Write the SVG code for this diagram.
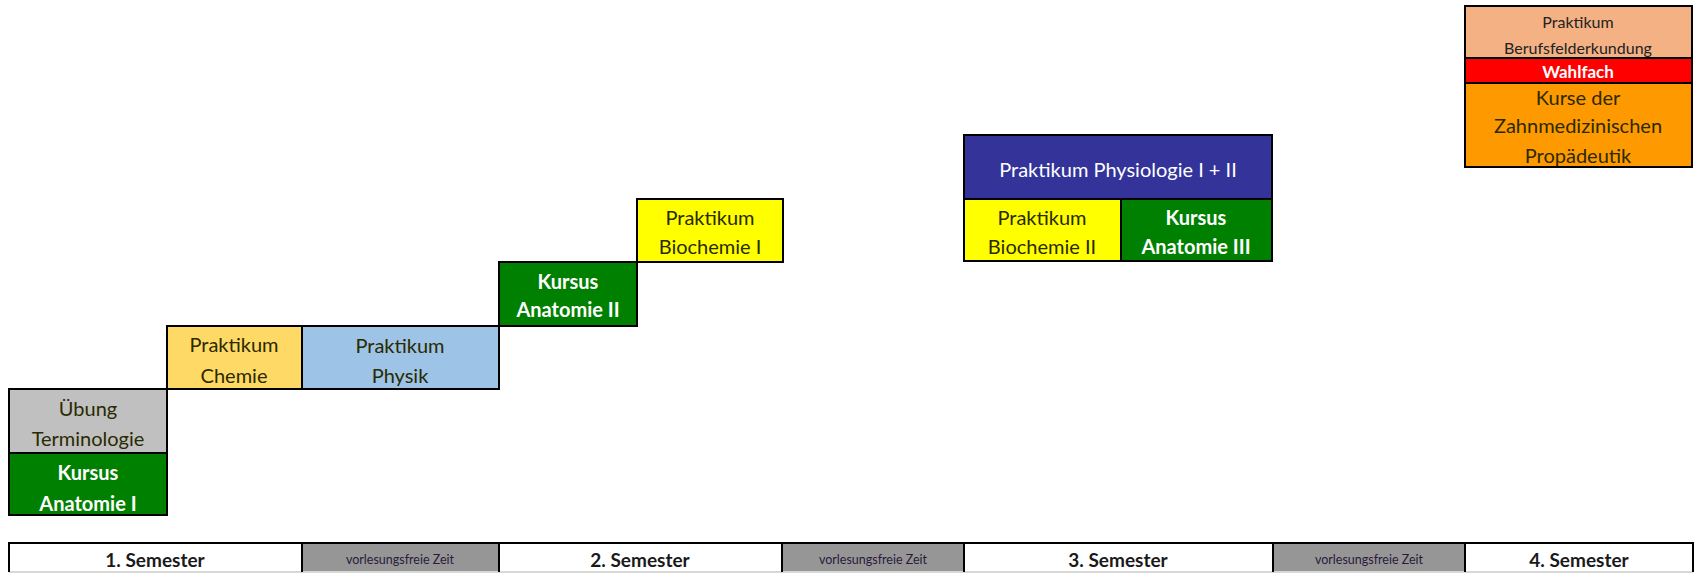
<svg xmlns="http://www.w3.org/2000/svg" width="1700" height="573" viewBox="0 0 1700 573">
<style>
.b{stroke:#000;stroke-width:2}
text{font-family:Lato,"Liberation Sans",sans-serif;text-anchor:middle;dominant-baseline:central}
.t{font-size:20px;fill:#2a2a00}
.w{font-size:20px;fill:#fff;font-weight:bold}
.s{font-size:16px;fill:#222}
.sem{font-size:19px;font-weight:bold;fill:#1a1a1a}
.vz{font-size:12.5px;fill:#2a1a3a}
</style>
<rect width="1700" height="573" fill="#fff"/>
<g id="uebung"><rect class="b" x="9" y="389" width="158" height="64" fill="#c0c0c0"/><text class="t" x="88" y="408">Übung</text><text class="t" x="88" y="438">Terminologie</text></g>
<g id="anatomie1"><rect class="b" x="9" y="453" width="158" height="62" fill="#008000"/><text class="w" x="88" y="472">Kursus</text><text class="w" x="88" y="503">Anatomie I</text></g>
<g id="chemie"><rect class="b" x="167" y="326" width="135" height="63" fill="#ffd966"/><text class="t" x="234" y="344">Praktikum</text><text class="t" x="234" y="375">Chemie</text></g>
<g id="physik"><rect class="b" x="302" y="326" width="197" height="63" fill="#9dc3e6"/><text class="t" x="400" y="345">Praktikum</text><text class="t" x="400" y="375">Physik</text></g>
<g id="anatomie2"><rect class="b" x="499" y="262" width="138" height="64" fill="#008000"/><text class="w" x="568" y="281">Kursus</text><text class="w" x="568" y="309">Anatomie II</text></g>
<g id="biochemie1"><rect class="b" x="637" y="199" width="146" height="63" fill="#ffff00"/><text class="t" x="710" y="217">Praktikum</text><text class="t" x="710" y="246">Biochemie I</text></g>
<g id="physiologie"><rect class="b" x="964" y="135" width="308" height="64" fill="#333399"/><text class="t" x="1118" y="169" style="fill:#fff">Praktikum Physiologie I + II</text></g>
<g id="biochemie2"><rect class="b" x="964" y="199" width="157" height="62" fill="#ffff00"/><text class="t" x="1042" y="217">Praktikum</text><text class="t" x="1042" y="246">Biochemie II</text></g>
<g id="anatomie3"><rect class="b" x="1121" y="199" width="151" height="62" fill="#008000"/><text class="w" x="1196" y="217">Kursus</text><text class="w" x="1196" y="246">Anatomie III</text></g>
<g id="legende">
<rect class="b" x="1465" y="6" width="227" height="52" fill="#f4b183"/><text class="s" x="1578" y="21">Praktikum</text><text class="s" x="1578" y="47">Berufsfelderkundung</text>
<rect class="b" x="1465" y="58" width="227" height="25" fill="#ff0000"/><text class="s" x="1578" y="71" style="fill:#fff;font-weight:bold;font-size:17px">Wahlfach</text>
<rect class="b" x="1465" y="83" width="227" height="84" fill="#ff9900"/><text class="t" x="1578" y="97">Kurse der</text><text class="t" x="1578" y="125">Zahnmedizinischen</text><text class="t" x="1578" y="155">Propädeutik</text>
</g>
<g id="zeitleiste">
<rect x="9" y="543" width="1684" height="29" fill="#fff"/>
<rect x="302" y="543" width="197" height="29" fill="#969696"/>
<rect x="782" y="543" width="182" height="29" fill="#969696"/>
<rect x="1273" y="543" width="192" height="29" fill="#969696"/>
<line x1="9" y1="572" x2="1693" y2="572" stroke="#d8d8d8" stroke-width="2"/>
<path d="M9 572V543H1693V572M302 543V572M499 543V572M782 543V572M964 543V572M1273 543V572M1465 543V572" fill="none" class="b"/>
<text class="sem" x="155" y="559">1. Semester</text>
<text class="vz" x="400" y="559">vorlesungsfreie Zeit</text>
<text class="sem" x="640" y="559">2. Semester</text>
<text class="vz" x="873" y="559">vorlesungsfreie Zeit</text>
<text class="sem" x="1118" y="559">3. Semester</text>
<text class="vz" x="1369" y="559">vorlesungsfreie Zeit</text>
<text class="sem" x="1579" y="559">4. Semester</text>
</g>
</svg>
